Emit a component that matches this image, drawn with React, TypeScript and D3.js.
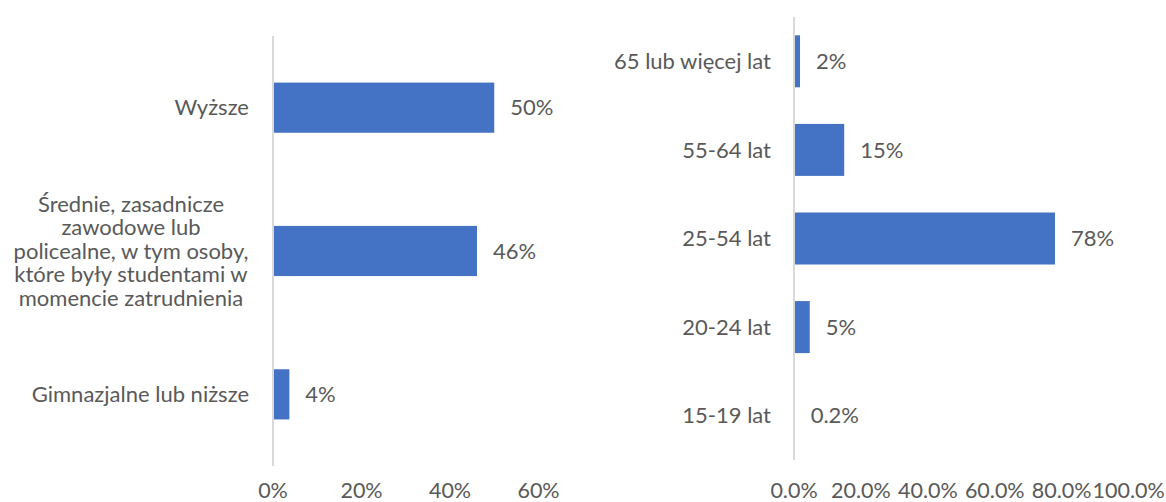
import React from "react";
import * as d3 from "d3";

const eduCategories: string[][] = [
  ["Wyższe"],
  ["Średnie, zasadnicze", "zawodowe lub", "policealne, w tym osoby,", "które były studentami w", "momencie zatrudnienia"],
  ["Gimnazjalne lub niższe"],
];
const eduValues = [0.50, 0.461, 0.037];
const eduTicks = [0, 0.2, 0.4, 0.6];

const ageCategories = ["65 lub więcej lat", "55-64 lat", "25-54 lat", "20-24 lat", "15-19 lat"];
const ageValues = [0.018, 0.15, 0.78, 0.047, 0.002];
const ageTicks = [0, 0.2, 0.4, 0.6, 0.8, 1.0];

const W = 1166;
const H = 502;
const FONT = "Lato, 'Open Sans', sans-serif";
const TEXT = "#595959";
const BAR = "#4472C4";
const AXIS = "#D9D9D9";
const FS = 22;
const FS_TICK = 21.5;

export default function App() {
  // Left chart
  const xL = d3.scaleLinear().domain([0, 0.6]).range([273, 273 + 0.6 * 442.5]);
  const yL = d3
    .scaleBand<number>()
    .domain(eduCategories.map((_, i) => i))
    .range([36, 466])
    .paddingInner(0.65)
    .paddingOuter(0.325);
  const fmtL = d3.format(".0%");

  // Right chart
  const xR = d3.scaleLinear().domain([0, 1]).range([794, 794 + 334.6]);
  const yR = d3
    .scaleBand<string>()
    .domain(ageCategories)
    .range([17, 460])
    .paddingInner(0.413)
    .paddingOuter(0.2065);
  const fmtR = d3.format(".1%");
  const fmtVal = (v: number) => (v < 0.01 ? d3.format(".1%")(v) : d3.format(".0%")(v));

  const lineH = 23.5;

  return (
    <svg
      width={W}
      height={H}
      style={{ position: "absolute", left: 0, top: 0, background: "#fff" }}
      fontFamily={FONT}
    >
      {/* Left chart */}
      <g>
        {eduCategories.map((lines, i) => {
          const y0 = yL(i) as number;
          const cy = y0 + yL.bandwidth() / 2;
          const multi = lines.length > 1;
          const lx = multi ? 131 : 249;
          return (
            <g key={i}>
              <rect
                x={xL(0) + 1}
                y={y0}
                width={xL(eduValues[i]) - xL(0) - 1}
                height={yL.bandwidth()}
                fill={BAR}
              />
              <text x={xL(eduValues[i]) + 16} y={cy} dy="0.35em" fontSize={FS} fill={TEXT}>
                {fmtL(eduValues[i])}
              </text>
              <text
                x={lx}
                y={cy - ((lines.length - 1) / 2) * lineH}
                textAnchor={multi ? "middle" : "end"}
                fontSize={FS}
                fill={TEXT}
              >
                {lines.map((ln, j) => (
                  <tspan key={j} x={lx} dy={j === 0 ? "0.35em" : lineH}>
                    {ln}
                  </tspan>
                ))}
              </text>
            </g>
          );
        })}
        <line x1={xL(0)} x2={xL(0)} y1={36} y2={466} stroke={AXIS} strokeWidth={2} />
        {eduTicks.map((t) => (
          <text key={t} x={xL(t)} y={490.5} dy="0.35em" textAnchor="middle" fontSize={FS_TICK} fill={TEXT}>
            {fmtL(t)}
          </text>
        ))}
      </g>

      {/* Right chart */}
      <g>
        {ageCategories.map((c, i) => {
          const y0 = yR(c) as number;
          const cy = y0 + yR.bandwidth() / 2;
          return (
            <g key={c}>
              <rect
                x={xR(0) + 1}
                y={y0}
                width={Math.max(0, xR(ageValues[i]) - xR(0) - 1)}
                height={yR.bandwidth()}
                fill={BAR}
              />
              <text x={xR(ageValues[i]) + 16} y={cy} dy="0.35em" fontSize={FS} fill={TEXT}>
                {fmtVal(ageValues[i])}
              </text>
              <text x={771} y={cy} dy="0.35em" textAnchor="end" fontSize={FS} fill={TEXT}>
                {c}
              </text>
            </g>
          );
        })}
        <line x1={xR(0)} x2={xR(0)} y1={17} y2={460} stroke={AXIS} strokeWidth={2} />
        {ageTicks.map((t) => (
          <text key={t} x={xR(t)} y={490} dy="0.35em" textAnchor="middle" fontSize={FS_TICK} fill={TEXT}>
            {fmtR(t)}
          </text>
        ))}
      </g>
    </svg>
  );
}
